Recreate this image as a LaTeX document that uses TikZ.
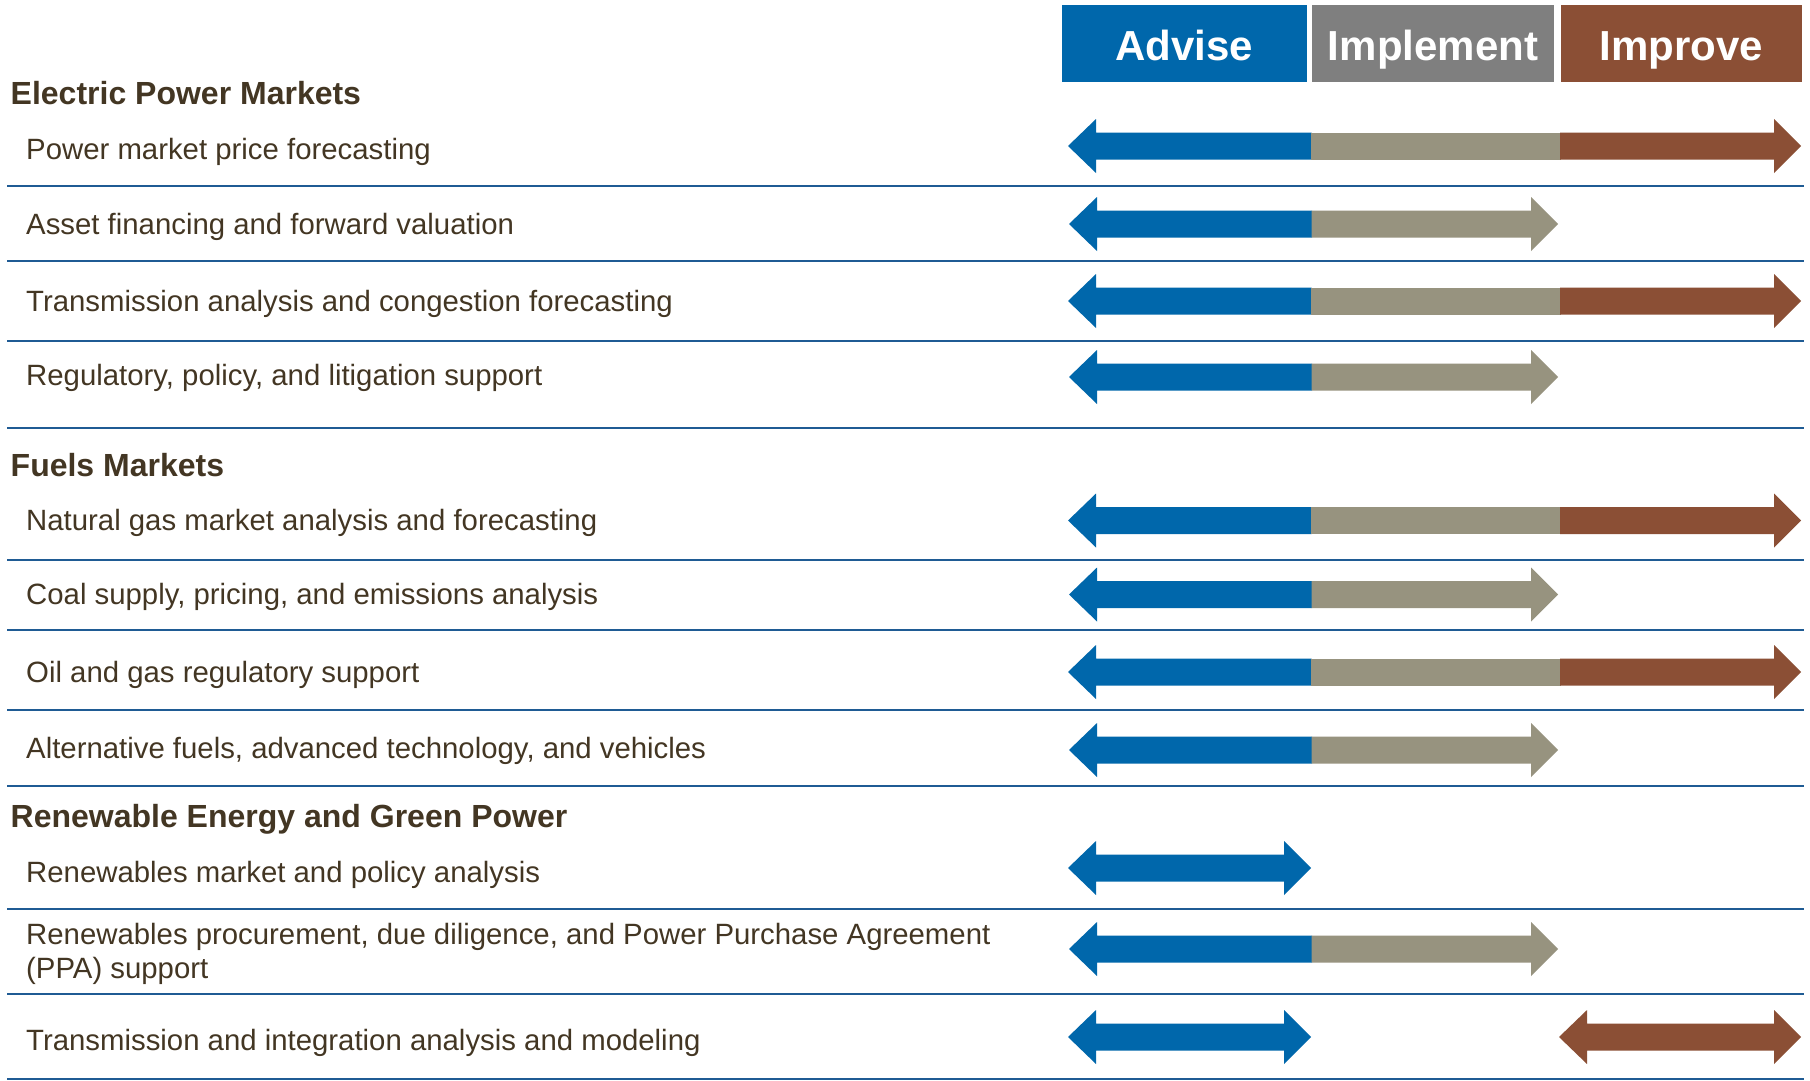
\documentclass[tikz,border=0pt]{standalone}
\usepackage{fontspec}
\setmainfont{Liberation Sans}
\definecolor{advblue}{RGB}{0,103,171}
\definecolor{impgray}{RGB}{127,127,127}
\definecolor{imparrow}{RGB}{151,147,127}
\definecolor{imprbrown}{RGB}{139,79,53}
\definecolor{txtbrown}{RGB}{67,54,35}
\definecolor{rulebl}{RGB}{31,91,148}
% #1 tip x, #2 end x, #3 y, #4 colour
\newcommand\ArrLeftPart[4]{\fill[#4] (#1,#3) -- (#1+28,#3-27) -- (#1+28,#3-13.5) -- (#2,#3-13.5) -- (#2,#3+13.5) -- (#1+28,#3+13.5) -- (#1+28,#3+27) -- cycle;}
% #1 start x, #2 tip x, #3 y, #4 colour
\newcommand\ArrRightPart[4]{\fill[#4] (#2,#3) -- (#2-27,#3-27) -- (#2-27,#3-13.5) -- (#1,#3-13.5) -- (#1,#3+13.5) -- (#2-27,#3+13.5) -- (#2-27,#3+27) -- cycle;}
\newcommand\ArrMidPart[4]{\fill[#4] (#1,#3-13.5) rectangle (#2,#3+13.5);}
\newcommand\ArrBothPart[4]{\fill[#4] (#1,#3) -- (#1+28,#3-27) -- (#1+28,#3-13.5) -- (#2-27,#3-13.5) -- (#2-27,#3-27) -- (#2,#3) -- (#2-27,#3+27) -- (#2-27,#3+13.5) -- (#1+28,#3+13.5) -- (#1+28,#3+27) -- cycle;}
\newcommand\ArrFull[1]{\ArrLeftPart{1068}{1311.5}{#1}{advblue}\ArrMidPart{1311}{1560.5}{#1}{imparrow}\ArrRightPart{1560}{1801}{#1}{imprbrown}}
\newcommand\ArrTwo[1]{\ArrLeftPart{1069}{1312}{#1}{advblue}\ArrRightPart{1311.5}{1558}{#1}{imparrow}}
\begin{document}
\begin{tikzpicture}[x=1pt,y=-1pt,
  hdrbox/.style={inner sep=0pt, text=white, font=\fontsize{42}{48}\selectfont\bfseries,
     minimum height=77pt, text height=33pt, text depth=0pt},
  heading/.style={anchor=base west, inner sep=0pt, text=txtbrown, font=\fontsize{32}{37}\selectfont\bfseries},
  item/.style={anchor=base west, inner sep=0pt, text=txtbrown, font=\fontsize{29.35}{34}\selectfont},
  sep/.style={draw=rulebl, line width=2pt}]
\useasboundingbox (0,0) rectangle (1810,1081);
\fill[white] (0,0) rectangle (1810,1081);

% header boxes
\node[hdrbox, fill=advblue, minimum width=244.5pt] (adv) at (1184.25,43.5) {Advise};
\node[hdrbox, fill=impgray, minimum width=242pt] (imp) at (1433,43.5) {Implement};
\node[hdrbox, fill=imprbrown, minimum width=241pt] (impr) at (1681,43.5) {Improve};

% headings
\node[heading] (h1) at (10.5,104) {Electric Power Markets};
\node[heading] (h2) at (10.5,476) {Fuels Markets};
\node[heading] (h3) at (10.5,827) {Renewable Energy and Green Power};

% items
\node[item] (i1) at (26,159) {Power market price forecasting};
\node[item] (i2) at (26,234) {Asset financing and forward valuation};
\node[item] (i3) at (26,311) {Transmission analysis and congestion forecasting};
\node[item] (i4) at (26,385) {Regulatory, policy, and litigation support};
\node[item] (i5) at (26,530) {Natural gas market analysis and forecasting};
\node[item] (i6) at (26,604) {Coal supply, pricing, and emissions analysis};
\node[item] (i7) at (26,682) {Oil and gas regulatory support};
\node[item] (i8) at (26,758) {Alternative fuels, advanced technology, and vehicles};
\node[item] (i9) at (26,882) {Renewables market and policy analysis};
\node[item] (i10a) at (26,944) {Renewables procurement, due diligence, and Power Purchase Agreement};
\node[item] (i10b) at (26,978) {(PPA) support};
\node[item] (i11) at (26,1050) {Transmission and integration analysis and modeling};

% separators
\foreach \yy in {186,261,340.5,427.5,560,630,710,786,909,994,1079}
  \path[sep] (7,\yy) -- (1804,\yy);

% arrows
\ArrFull{146}
\ArrTwo{224}
\ArrFull{301}
\ArrTwo{377}
\ArrFull{520.5}
\ArrTwo{594.5}
\ArrFull{672}
\ArrTwo{750}
\ArrBothPart{1068}{1311}{868}{advblue}
\ArrTwo{949}
\ArrBothPart{1068}{1311}{1037}{advblue}
\ArrBothPart{1559}{1801}{1037}{imprbrown}
\end{tikzpicture}
\end{document}
